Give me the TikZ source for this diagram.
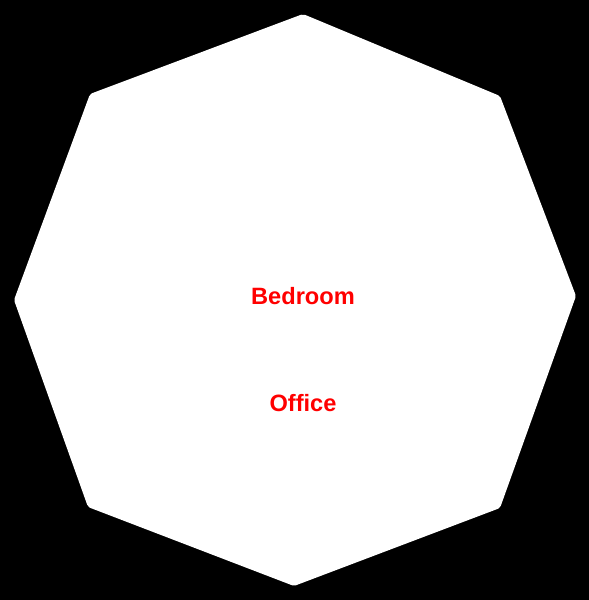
\documentclass[tikz,border=0pt]{standalone}
\usepackage{fontspec}
\setmainfont{Liberation Sans}
\usepackage{xcolor}
\definecolor{roomRed}{RGB}{255,0,0}
\tikzset{
    roomlabel/.style={
        text=roomRed,
        font=\fontsize{16.8}{20}\selectfont\bfseries,
        inner sep=0pt
    },
    floorplate/.style={fill=white, draw=none, rounded corners=1.5pt}
}
\begin{document}
\begin{tikzpicture}[x=0.025cm, y=-0.025cm]
    % background
    \fill[black] (0,0) rectangle (589,600);
    \useasboundingbox (0,0) rectangle (589,600);
    % octagon
    \fill[floorplate] (303,14) -- (500,96) -- (576,296) -- (500,508)
        -- (294,586) -- (88,507) -- (14,300) -- (90,94) -- cycle;
    % labels
    \node[roomlabel] (bedroom) at (303,296) {Bedroom};
    \node[roomlabel] (office) at (303,403) {Office};
\end{tikzpicture}
\end{document}
